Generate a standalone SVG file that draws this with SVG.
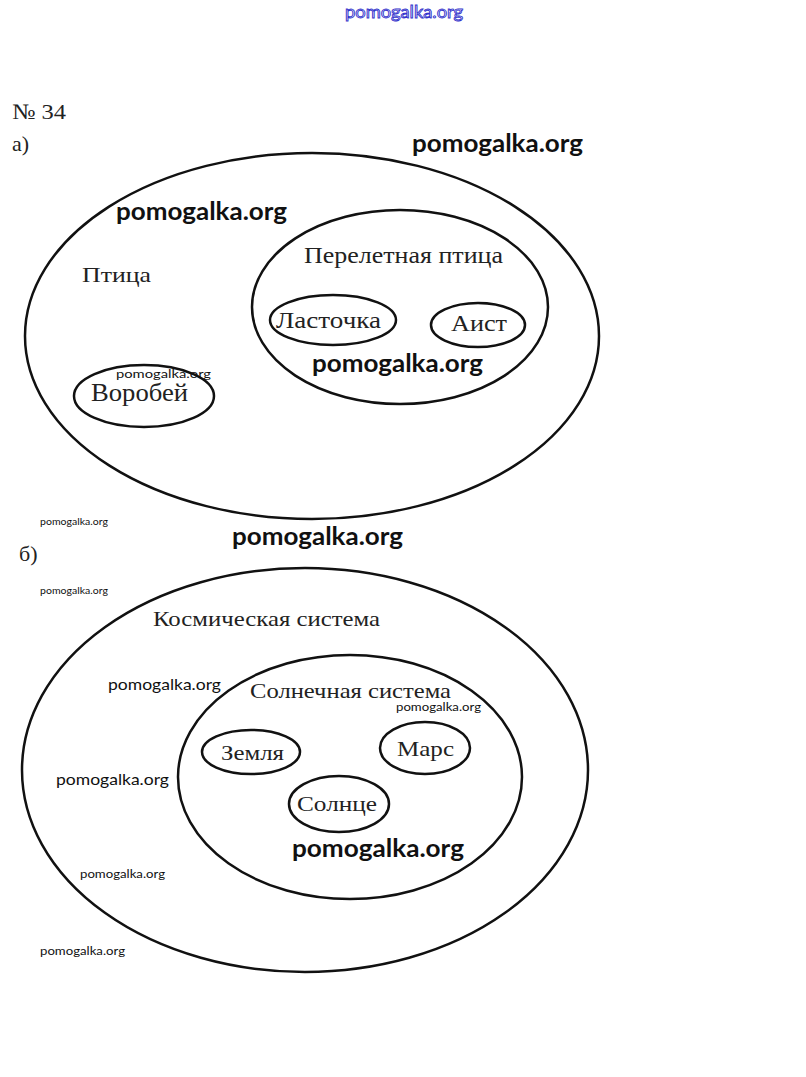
<svg xmlns="http://www.w3.org/2000/svg" width="806" height="1077" viewBox="0 0 806 1077">
<style>
.e{fill:none;stroke:#111;stroke-width:2.5}
.s{font-family:"Liberation Serif",serif;fill:#222}
.w{font-family:Lato,"Open Sans",sans-serif;font-weight:bold;fill:#111;font-size:25px}
.ws{font-family:Lato,"Open Sans",sans-serif;fill:#111}
</style>
<rect width="806" height="1077" fill="#fff"/>
<text x="345" y="18" font-family="Lato,sans-serif" font-size="17" fill="#fff" stroke="#3333cc" stroke-width="0.9" textLength="118" lengthAdjust="spacingAndGlyphs">pomogalka.org</text>
<text class="s" x="12" y="119" font-size="22" fill="#444" textLength="54" lengthAdjust="spacingAndGlyphs">№ 34</text>
<text class="s" x="12" y="151" font-size="22" fill="#444">а)</text>
<g id="ptica"><ellipse class="e" cx="312" cy="336" rx="287" ry="183"/><text class="s" x="82" y="282" font-size="22" textLength="69" lengthAdjust="spacingAndGlyphs">Птица</text></g>
<g id="pereletnaya"><ellipse class="e" cx="400" cy="307" rx="148" ry="97"/><text class="s" x="304" y="263" font-size="23" textLength="199" lengthAdjust="spacingAndGlyphs">Перелетная птица</text></g>
<g id="lastochka"><ellipse class="e" cx="333" cy="320" rx="63" ry="25"/><text class="s" x="276" y="328" font-size="23" textLength="105" lengthAdjust="spacingAndGlyphs">Ласточка</text></g>
<g id="aist"><ellipse class="e" cx="478" cy="325" rx="47" ry="22"/><text class="s" x="451" y="331" font-size="23" textLength="56" lengthAdjust="spacingAndGlyphs">Аист</text></g>
<g id="vorobey"><ellipse class="e" cx="144" cy="396" rx="70" ry="31"/><text class="s" x="91" y="401" font-size="25" textLength="97" lengthAdjust="spacingAndGlyphs">Воробей</text></g>
<text class="s" x="19" y="561" font-size="22" fill="#444">б)</text>
<g id="kosmos"><ellipse class="e" cx="305" cy="770" rx="283" ry="202"/><text class="s" x="153" y="626" font-size="21" textLength="227" lengthAdjust="spacingAndGlyphs">Космическая система</text></g>
<g id="solnech"><ellipse class="e" cx="350" cy="777" rx="172" ry="122"/><text class="s" x="250" y="698" font-size="21" textLength="201" lengthAdjust="spacingAndGlyphs">Солнечная система</text></g>
<g id="zemlya"><ellipse class="e" cx="251" cy="752" rx="49" ry="22"/><text class="s" x="221" y="760" font-size="21" textLength="63" lengthAdjust="spacingAndGlyphs">Земля</text></g>
<g id="mars"><ellipse class="e" cx="425" cy="748" rx="45" ry="26"/><text class="s" x="397" y="756" font-size="22" textLength="57" lengthAdjust="spacingAndGlyphs">Марс</text></g>
<g id="solnce"><ellipse class="e" cx="339" cy="804" rx="50" ry="28"/><text class="s" x="297" y="811" font-size="22" textLength="80" lengthAdjust="spacingAndGlyphs">Солнце</text></g>
<g id="watermarks">
<text class="w" x="412" y="152" textLength="171" lengthAdjust="spacingAndGlyphs">pomogalka.org</text>
<text class="w" x="116" y="220" textLength="171" lengthAdjust="spacingAndGlyphs">pomogalka.org</text>
<text class="w" x="312" y="372" textLength="171" lengthAdjust="spacingAndGlyphs">pomogalka.org</text>
<text class="ws" x="116" y="378" font-size="11" textLength="95" lengthAdjust="spacingAndGlyphs">pomogalka.org</text>
<text class="ws" x="40" y="525" font-size="10" textLength="68" lengthAdjust="spacingAndGlyphs">pomogalka.org</text>
<text class="w" x="232" y="545" textLength="171" lengthAdjust="spacingAndGlyphs">pomogalka.org</text>
<text class="ws" x="40" y="594" font-size="10" textLength="68" lengthAdjust="spacingAndGlyphs">pomogalka.org</text>
<text class="ws" x="108" y="690" font-size="15" textLength="113" lengthAdjust="spacingAndGlyphs">pomogalka.org</text>
<text class="ws" x="396" y="711" font-size="12" textLength="85" lengthAdjust="spacingAndGlyphs">pomogalka.org</text>
<text class="ws" x="56" y="785" font-size="15" textLength="113" lengthAdjust="spacingAndGlyphs">pomogalka.org</text>
<text class="w" x="292" y="857" textLength="172" lengthAdjust="spacingAndGlyphs">pomogalka.org</text>
<text class="ws" x="80" y="878" font-size="12" textLength="85" lengthAdjust="spacingAndGlyphs">pomogalka.org</text>
<text class="ws" x="40" y="955" font-size="12" textLength="85" lengthAdjust="spacingAndGlyphs">pomogalka.org</text>
</g>
</svg>
